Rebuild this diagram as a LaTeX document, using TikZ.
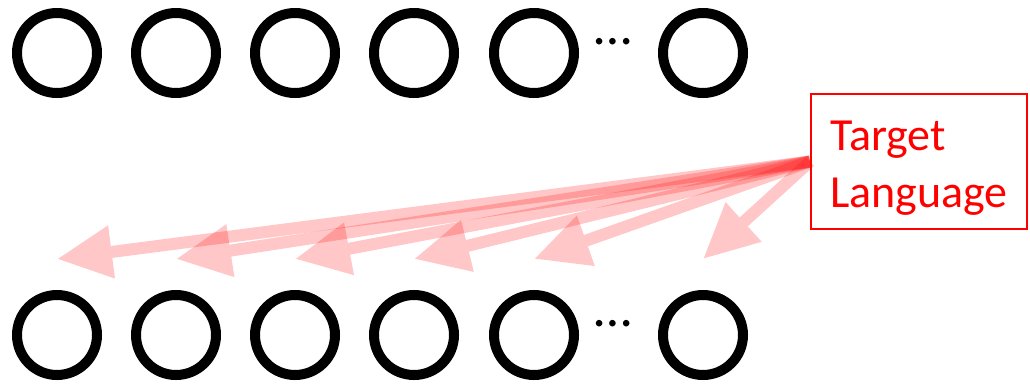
\documentclass[tikz,border=0pt]{standalone}
\usepackage{fontspec}
\newfontfamily\carlito{Carlito}
\usetikzlibrary{arrows.meta}
\usetikzlibrary{positioning}
\tikzstyle{unit}=[circle, draw, line width=10pt, minimum size=80pt, inner sep=0pt]
\tikzstyle{myarrow}=[-{Triangle[length=55pt, width=50pt]}, line width=12pt, red]
\tikzstyle{langbox}=[draw=red, line width=2pt, text=red, align=left, font=\carlito\fontsize{46}{57}\selectfont, minimum width=216pt, minimum height=135pt]
\tikzstyle{ellip}=[inner sep=0pt, font=\carlito\fontsize{54}{54}\selectfont]

\begin{document}
\begin{tikzpicture}[x=1pt, y=-1pt]
    \useasboundingbox (0,0) rectangle (1030,383) ;
    % two rows of units
    \foreach \i/\x in {1/57, 2/176, 3/295, 4/414, 5/534, n/703} {
        \node[unit] (t\i) at (\x, 53) {} ;
        \node[unit] (b\i) at (\x, 335) {} ;
    }
    \node[ellip] (tdots) at (613, 42) {…} ;
    \node[ellip] (bdots) at (613, 324) {…} ;
    \node[langbox] (tgt) at (919, 161.5) {\rule{0pt}{42pt}Target\\Language} ;
    % arrows into the lower row
    \foreach \i in {1, 2, 3, 4, 5, n} {
        \begin{scope}[transparency group, opacity=0.22]
            \draw[myarrow] (tgt.west) -- ([yshift=31pt]b\i.north) ;
        \end{scope}
    }
\end{tikzpicture}
\end{document}
